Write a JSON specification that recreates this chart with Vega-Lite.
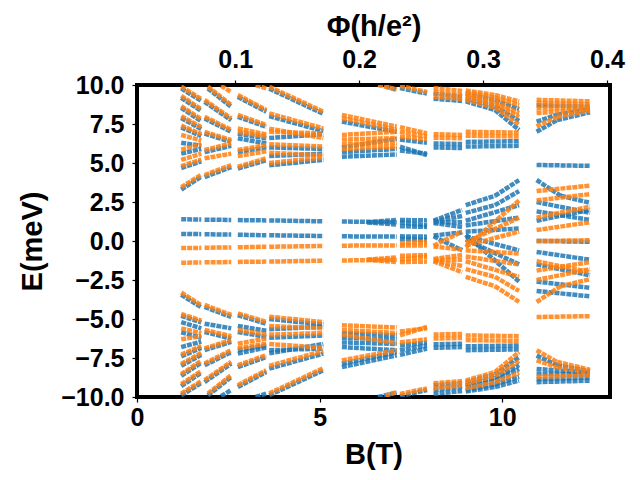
{
  "$schema": "https://vega.github.io/schema/vega-lite/v6.json",
  "width": 473,
  "height": 312,
  "autosize": {"type": "none"},
  "padding": {"left": 137, "top": 85, "right": 30, "bottom": 83},
  "background": "white",
  "layer": [
    {
      "data": {
        "values": [
          {"c":"B","b":1.21,"e":9.78,"b2":1.76,"e2":8.98},
          {"c":"B","b":1.21,"e":9.18,"b2":1.76,"e2":8.33},
          {"c":"B","b":1.21,"e":8.53,"b2":1.76,"e2":7.68},
          {"c":"B","b":1.21,"e":7.88,"b2":1.76,"e2":7.18},
          {"c":"B","b":1.21,"e":7.28,"b2":1.76,"e2":6.73},
          {"c":"B","b":1.21,"e":6.3,"b2":1.76,"e2":6.1},
          {"c":"B","b":1.21,"e":5.6,"b2":1.76,"e2":5.9},
          {"c":"B","b":1.21,"e":4.68,"b2":1.76,"e2":5.1},
          {"c":"B","b":1.21,"e":3.3,"b2":1.76,"e2":4.12},
          {"c":"B","b":1.94,"e":9.78,"b2":2.58,"e2":8.6},
          {"c":"B","b":1.85,"e":8.92,"b2":2.58,"e2":7.74},
          {"c":"B","b":1.85,"e":7.85,"b2":2.58,"e2":7.0},
          {"c":"B","b":1.85,"e":6.88,"b2":2.58,"e2":6.35},
          {"c":"B","b":1.85,"e":5.7,"b2":2.58,"e2":6.1},
          {"c":"B","b":1.85,"e":4.1,"b2":2.58,"e2":4.74},
          {"c":"B","b":2.76,"e":9.24,"b2":3.54,"e2":8.28},
          {"c":"B","b":2.76,"e":7.96,"b2":3.54,"e2":7.32},
          {"c":"B","b":2.76,"e":6.88,"b2":3.54,"e2":6.58},
          {"c":"B","b":2.76,"e":6.58,"b2":3.54,"e2":6.26},
          {"c":"B","b":2.76,"e":5.7,"b2":3.54,"e2":6.0},
          {"c":"B","b":2.76,"e":4.64,"b2":3.54,"e2":5.18},
          {"c":"B","b":3.62,"e":9.77,"b2":5.1,"e2":8.15},
          {"c":"B","b":3.62,"e":8.0,"b2":5.1,"e2":7.05},
          {"c":"B","b":3.62,"e":6.6,"b2":5.1,"e2":6.85},
          {"c":"B","b":3.62,"e":6.0,"b2":5.1,"e2":5.9},
          {"c":"B","b":3.62,"e":5.45,"b2":5.1,"e2":5.6},
          {"c":"B","b":3.62,"e":4.85,"b2":5.1,"e2":5.2},
          {"c":"B","b":6.8,"e":9.92,"b2":7.11,"e2":9.68},
          {"c":"B","b":5.61,"e":7.65,"b2":7.11,"e2":7.0},
          {"c":"B","b":5.61,"e":6.0,"b2":7.11,"e2":6.55},
          {"c":"B","b":5.61,"e":5.7,"b2":7.11,"e2":5.9},
          {"c":"B","b":5.61,"e":5.4,"b2":7.11,"e2":5.55},
          {"c":"B","b":7.2,"e":9.8,"b2":7.94,"e2":9.45},
          {"c":"B","b":7.2,"e":6.5,"b2":7.94,"e2":6.3},
          {"c":"B","b":7.2,"e":6.05,"b2":7.94,"e2":5.5},
          {"c":"B","b":7.2,"e":5.8,"b2":7.94,"e2":5.6},
          {"c":"B","b":8.12,"e":9.45,"b2":8.9,"e2":9.25},
          {"c":"B","b":8.12,"e":9.12,"b2":8.9,"e2":8.98},
          {"c":"B","b":8.12,"e":6.25,"b2":8.9,"e2":6.22},
          {"c":"B","b":8.12,"e":6.0,"b2":8.9,"e2":5.96},
          {"c":"B","b":9.0,"e":9.45,"b2":9.8,"e2":9.05},
          {"c":"B","b":9.8,"e":9.05,"b2":10.46,"e2":8.45},
          {"c":"B","b":9.0,"e":9.15,"b2":9.8,"e2":8.65},
          {"c":"B","b":9.8,"e":8.65,"b2":10.46,"e2":7.7},
          {"c":"B","b":9.0,"e":8.95,"b2":9.8,"e2":8.4},
          {"c":"B","b":9.8,"e":8.4,"b2":10.46,"e2":7.12},
          {"c":"B","b":9.0,"e":6.35,"b2":10.46,"e2":6.4},
          {"c":"B","b":9.0,"e":6.05,"b2":10.46,"e2":6.1},
          {"c":"B","b":10.94,"e":8.7,"b2":12.4,"e2":8.62},
          {"c":"B","b":10.94,"e":7.65,"b2":11.5,"e2":8.1},
          {"c":"B","b":11.5,"e":8.1,"b2":12.4,"e2":8.45},
          {"c":"B","b":10.94,"e":7.0,"b2":11.5,"e2":7.75},
          {"c":"B","b":11.5,"e":7.75,"b2":12.4,"e2":8.25},
          {"c":"B","b":10.94,"e":4.87,"b2":12.4,"e2":4.82},
          {"c":"B","b":1.21,"e":1.39,"b2":1.76,"e2":1.38},
          {"c":"B","b":1.21,"e":0.45,"b2":1.76,"e2":0.44},
          {"c":"B","b":1.85,"e":1.37,"b2":2.58,"e2":1.35},
          {"c":"B","b":1.85,"e":0.43,"b2":2.58,"e2":0.41},
          {"c":"B","b":2.76,"e":1.34,"b2":3.54,"e2":1.32},
          {"c":"B","b":2.76,"e":0.4,"b2":3.54,"e2":0.37},
          {"c":"B","b":3.62,"e":1.32,"b2":5.1,"e2":1.26},
          {"c":"B","b":3.62,"e":0.37,"b2":5.1,"e2":0.32},
          {"c":"B","b":5.61,"e":1.25,"b2":7.11,"e2":1.2},
          {"c":"B","b":5.61,"e":0.3,"b2":7.11,"e2":0.28},
          {"c":"B","b":6.3,"e":1.2,"b2":7.11,"e2":1.35},
          {"c":"B","b":6.3,"e":1.2,"b2":7.11,"e2":1.05},
          {"c":"B","b":7.2,"e":1.35,"b2":7.94,"e2":1.32},
          {"c":"B","b":7.2,"e":1.2,"b2":7.94,"e2":1.0},
          {"c":"B","b":7.2,"e":0.95,"b2":7.94,"e2":0.9},
          {"c":"B","b":7.2,"e":0.3,"b2":7.94,"e2":0.28},
          {"c":"B","b":7.2,"e":0.15,"b2":7.94,"e2":0.05},
          {"c":"B","b":8.12,"e":1.3,"b2":8.9,"e2":2.0},
          {"c":"B","b":8.12,"e":1.25,"b2":8.9,"e2":1.6},
          {"c":"B","b":8.12,"e":1.2,"b2":8.9,"e2":1.2},
          {"c":"B","b":8.12,"e":1.15,"b2":8.9,"e2":0.9},
          {"c":"B","b":8.12,"e":0.35,"b2":8.9,"e2":0.55},
          {"c":"B","b":8.12,"e":0.3,"b2":8.9,"e2":-0.6},
          {"c":"B","b":9.0,"e":2.3,"b2":9.8,"e2":2.9},
          {"c":"B","b":9.8,"e":2.9,"b2":10.46,"e2":3.9},
          {"c":"B","b":9.0,"e":1.8,"b2":9.8,"e2":2.3},
          {"c":"B","b":9.8,"e":2.3,"b2":10.46,"e2":3.2},
          {"c":"B","b":9.0,"e":1.3,"b2":10.46,"e2":2.3},
          {"c":"B","b":9.0,"e":1.0,"b2":10.46,"e2":1.5},
          {"c":"B","b":9.0,"e":0.6,"b2":10.46,"e2":0.8},
          {"c":"B","b":9.0,"e":0.3,"b2":10.46,"e2":-0.6},
          {"c":"B","b":9.0,"e":0.1,"b2":10.46,"e2":-1.5},
          {"c":"B","b":9.0,"e":0.4,"b2":10.46,"e2":-2.6},
          {"c":"B","b":10.94,"e":3.91,"b2":11.6,"e2":2.9},
          {"c":"B","b":11.6,"e":2.9,"b2":12.4,"e2":2.45},
          {"c":"B","b":10.94,"e":2.5,"b2":12.4,"e2":1.8},
          {"c":"B","b":10.94,"e":1.9,"b2":12.4,"e2":1.35},
          {"c":"B","b":10.94,"e":1.3,"b2":12.4,"e2":2.0},
          {"c":"B","b":10.94,"e":0.0,"b2":12.4,"e2":-0.05},
          {"c":"B","b":10.94,"e":-0.7,"b2":12.4,"e2":-1.2},
          {"c":"B","b":10.94,"e":-1.5,"b2":12.4,"e2":-2.2},
          {"c":"B","b":10.94,"e":-2.6,"b2":12.4,"e2":-3.0},
          {"c":"B","b":10.94,"e":-3.2,"b2":12.4,"e2":-3.55},
          {"c":"B","b":1.21,"e":-9.9,"b2":1.76,"e2":-9.1},
          {"c":"B","b":1.21,"e":-9.3,"b2":1.76,"e2":-8.45},
          {"c":"B","b":1.21,"e":-8.65,"b2":1.76,"e2":-7.8},
          {"c":"B","b":1.21,"e":-8.0,"b2":1.76,"e2":-7.3},
          {"c":"B","b":1.21,"e":-7.4,"b2":1.76,"e2":-6.85},
          {"c":"B","b":1.21,"e":-6.8,"b2":1.76,"e2":-6.45},
          {"c":"B","b":1.21,"e":-5.85,"b2":1.76,"e2":-6.2},
          {"c":"B","b":1.21,"e":-5.2,"b2":1.76,"e2":-5.6},
          {"c":"B","b":1.21,"e":-4.8,"b2":1.76,"e2":-5.22},
          {"c":"B","b":1.21,"e":-3.45,"b2":1.76,"e2":-4.25},
          {"c":"B","b":2.3,"e":-9.95,"b2":2.58,"e2":-9.55},
          {"c":"B","b":1.94,"e":-9.9,"b2":2.58,"e2":-8.72},
          {"c":"B","b":1.85,"e":-9.04,"b2":2.58,"e2":-7.86},
          {"c":"B","b":1.85,"e":-7.97,"b2":2.58,"e2":-7.12},
          {"c":"B","b":1.85,"e":-7.0,"b2":2.58,"e2":-6.47},
          {"c":"B","b":1.85,"e":-5.83,"b2":2.58,"e2":-6.26},
          {"c":"B","b":1.85,"e":-5.3,"b2":2.58,"e2":-5.6},
          {"c":"B","b":1.85,"e":-4.23,"b2":2.58,"e2":-4.87},
          {"c":"B","b":3.25,"e":-10.0,"b2":3.54,"e2":-9.78},
          {"c":"B","b":2.76,"e":-9.36,"b2":3.54,"e2":-8.4},
          {"c":"B","b":2.76,"e":-8.08,"b2":3.54,"e2":-7.44},
          {"c":"B","b":2.76,"e":-7.22,"b2":3.54,"e2":-6.82},
          {"c":"B","b":2.76,"e":-7.0,"b2":3.54,"e2":-6.7},
          {"c":"B","b":2.76,"e":-5.83,"b2":3.54,"e2":-6.15},
          {"c":"B","b":2.76,"e":-5.45,"b2":3.54,"e2":-5.75},
          {"c":"B","b":2.76,"e":-4.76,"b2":3.54,"e2":-5.3},
          {"c":"B","b":3.62,"e":-9.89,"b2":5.1,"e2":-8.29},
          {"c":"B","b":3.62,"e":-8.18,"b2":5.1,"e2":-7.22},
          {"c":"B","b":3.62,"e":-7.2,"b2":5.1,"e2":-6.6},
          {"c":"B","b":3.62,"e":-7.0,"b2":5.1,"e2":-6.9},
          {"c":"B","b":3.62,"e":-6.2,"b2":5.1,"e2":-6.05},
          {"c":"B","b":3.62,"e":-5.65,"b2":5.1,"e2":-5.5},
          {"c":"B","b":3.62,"e":-5.0,"b2":5.1,"e2":-5.35},
          {"c":"B","b":6.6,"e":-10.0,"b2":7.11,"e2":-9.72},
          {"c":"B","b":5.61,"e":-8.08,"b2":7.11,"e2":-7.33},
          {"c":"B","b":5.61,"e":-7.86,"b2":7.11,"e2":-7.12},
          {"c":"B","b":5.61,"e":-6.8,"b2":7.11,"e2":-7.0},
          {"c":"B","b":5.61,"e":-6.5,"b2":7.11,"e2":-6.6},
          {"c":"B","b":5.61,"e":-6.2,"b2":7.11,"e2":-6.3},
          {"c":"B","b":5.61,"e":-5.9,"b2":7.11,"e2":-6.05},
          {"c":"B","b":7.2,"e":-9.95,"b2":7.94,"e2":-9.55},
          {"c":"B","b":7.2,"e":-7.3,"b2":7.94,"e2":-6.9},
          {"c":"B","b":7.2,"e":-7.0,"b2":7.94,"e2":-6.7},
          {"c":"B","b":7.2,"e":-6.7,"b2":7.94,"e2":-6.5},
          {"c":"B","b":8.12,"e":-9.8,"b2":8.9,"e2":-9.62},
          {"c":"B","b":8.12,"e":-9.55,"b2":8.9,"e2":-9.35},
          {"c":"B","b":8.12,"e":-9.25,"b2":8.9,"e2":-9.1},
          {"c":"B","b":8.12,"e":-6.85,"b2":8.9,"e2":-6.8},
          {"c":"B","b":8.12,"e":-6.62,"b2":8.9,"e2":-6.58},
          {"c":"B","b":9.0,"e":-9.65,"b2":9.8,"e2":-9.36},
          {"c":"B","b":9.8,"e":-9.36,"b2":10.46,"e2":-8.95},
          {"c":"B","b":9.0,"e":-9.55,"b2":9.8,"e2":-9.2},
          {"c":"B","b":9.8,"e":-9.2,"b2":10.46,"e2":-8.7},
          {"c":"B","b":9.0,"e":-9.35,"b2":9.8,"e2":-8.95},
          {"c":"B","b":9.8,"e":-8.95,"b2":10.46,"e2":-8.2},
          {"c":"B","b":9.0,"e":-9.25,"b2":9.8,"e2":-8.8},
          {"c":"B","b":9.8,"e":-8.8,"b2":10.46,"e2":-7.95},
          {"c":"B","b":9.0,"e":-9.05,"b2":9.8,"e2":-8.55},
          {"c":"B","b":9.8,"e":-8.55,"b2":10.46,"e2":-7.45},
          {"c":"B","b":9.0,"e":-7.0,"b2":10.46,"e2":-6.95},
          {"c":"B","b":9.0,"e":-6.75,"b2":10.46,"e2":-6.7},
          {"c":"B","b":10.94,"e":-9.05,"b2":12.4,"e2":-8.95},
          {"c":"B","b":10.94,"e":-8.85,"b2":12.4,"e2":-8.75},
          {"c":"B","b":10.94,"e":-8.5,"b2":12.4,"e2":-8.55},
          {"c":"B","b":10.94,"e":-8.2,"b2":12.4,"e2":-8.45},
          {"c":"B","b":10.94,"e":-7.35,"b2":11.5,"e2":-7.95},
          {"c":"B","b":11.5,"e":-7.95,"b2":12.4,"e2":-8.35},

          {"c":"O","b":1.21,"e":9.9,"b2":1.76,"e2":9.1},
          {"c":"O","b":1.21,"e":9.3,"b2":1.76,"e2":8.45},
          {"c":"O","b":1.21,"e":8.65,"b2":1.76,"e2":7.8},
          {"c":"O","b":1.21,"e":8.0,"b2":1.76,"e2":7.3},
          {"c":"O","b":1.21,"e":7.4,"b2":1.76,"e2":6.85},
          {"c":"O","b":1.21,"e":6.8,"b2":1.76,"e2":6.45},
          {"c":"O","b":1.21,"e":5.85,"b2":1.76,"e2":6.2},
          {"c":"O","b":1.21,"e":5.2,"b2":1.76,"e2":5.6},
          {"c":"O","b":1.21,"e":4.8,"b2":1.76,"e2":5.22},
          {"c":"O","b":1.21,"e":3.45,"b2":1.76,"e2":4.25},
          {"c":"O","b":2.3,"e":9.95,"b2":2.58,"e2":9.55},
          {"c":"O","b":1.94,"e":9.9,"b2":2.58,"e2":8.72},
          {"c":"O","b":1.85,"e":9.04,"b2":2.58,"e2":7.86},
          {"c":"O","b":1.85,"e":7.97,"b2":2.58,"e2":7.12},
          {"c":"O","b":1.85,"e":7.0,"b2":2.58,"e2":6.47},
          {"c":"O","b":1.85,"e":5.83,"b2":2.58,"e2":6.26},
          {"c":"O","b":1.85,"e":5.3,"b2":2.58,"e2":5.6},
          {"c":"O","b":1.85,"e":4.23,"b2":2.58,"e2":4.87},
          {"c":"O","b":3.25,"e":10.0,"b2":3.54,"e2":9.78},
          {"c":"O","b":2.76,"e":9.36,"b2":3.54,"e2":8.4},
          {"c":"O","b":2.76,"e":8.08,"b2":3.54,"e2":7.44},
          {"c":"O","b":2.76,"e":7.22,"b2":3.54,"e2":6.82},
          {"c":"O","b":2.76,"e":7.0,"b2":3.54,"e2":6.7},
          {"c":"O","b":2.76,"e":5.83,"b2":3.54,"e2":6.15},
          {"c":"O","b":2.76,"e":5.45,"b2":3.54,"e2":5.75},
          {"c":"O","b":2.76,"e":4.76,"b2":3.54,"e2":5.3},
          {"c":"O","b":3.62,"e":9.89,"b2":5.1,"e2":8.29},
          {"c":"O","b":3.62,"e":8.18,"b2":5.1,"e2":7.22},
          {"c":"O","b":3.62,"e":7.2,"b2":5.1,"e2":6.6},
          {"c":"O","b":3.62,"e":7.0,"b2":5.1,"e2":6.9},
          {"c":"O","b":3.62,"e":6.2,"b2":5.1,"e2":6.05},
          {"c":"O","b":3.62,"e":5.65,"b2":5.1,"e2":5.5},
          {"c":"O","b":3.62,"e":5.0,"b2":5.1,"e2":5.35},
          {"c":"O","b":6.6,"e":10.0,"b2":7.11,"e2":9.72},
          {"c":"O","b":5.61,"e":8.08,"b2":7.11,"e2":7.33},
          {"c":"O","b":5.61,"e":7.86,"b2":7.11,"e2":7.12},
          {"c":"O","b":5.61,"e":6.8,"b2":7.11,"e2":7.0},
          {"c":"O","b":5.61,"e":6.5,"b2":7.11,"e2":6.6},
          {"c":"O","b":5.61,"e":6.2,"b2":7.11,"e2":6.3},
          {"c":"O","b":5.61,"e":5.9,"b2":7.11,"e2":6.05},
          {"c":"O","b":7.2,"e":9.95,"b2":7.94,"e2":9.55},
          {"c":"O","b":7.2,"e":7.3,"b2":7.94,"e2":6.9},
          {"c":"O","b":7.2,"e":7.0,"b2":7.94,"e2":6.7},
          {"c":"O","b":7.2,"e":6.7,"b2":7.94,"e2":6.5},
          {"c":"O","b":8.12,"e":9.8,"b2":8.9,"e2":9.62},
          {"c":"O","b":8.12,"e":9.55,"b2":8.9,"e2":9.35},
          {"c":"O","b":8.12,"e":9.25,"b2":8.9,"e2":9.1},
          {"c":"O","b":8.12,"e":6.85,"b2":8.9,"e2":6.8},
          {"c":"O","b":8.12,"e":6.62,"b2":8.9,"e2":6.58},
          {"c":"O","b":9.0,"e":9.65,"b2":9.8,"e2":9.36},
          {"c":"O","b":9.8,"e":9.36,"b2":10.46,"e2":8.95},
          {"c":"O","b":9.0,"e":9.55,"b2":9.8,"e2":9.2},
          {"c":"O","b":9.8,"e":9.2,"b2":10.46,"e2":8.7},
          {"c":"O","b":9.0,"e":9.35,"b2":9.8,"e2":8.95},
          {"c":"O","b":9.8,"e":8.95,"b2":10.46,"e2":8.2},
          {"c":"O","b":9.0,"e":9.25,"b2":9.8,"e2":8.8},
          {"c":"O","b":9.8,"e":8.8,"b2":10.46,"e2":7.95},
          {"c":"O","b":9.0,"e":9.05,"b2":9.8,"e2":8.55},
          {"c":"O","b":9.8,"e":8.55,"b2":10.46,"e2":7.45},
          {"c":"O","b":9.0,"e":7.0,"b2":10.46,"e2":6.95},
          {"c":"O","b":9.0,"e":6.75,"b2":10.46,"e2":6.7},
          {"c":"O","b":10.94,"e":9.05,"b2":12.4,"e2":8.95},
          {"c":"O","b":10.94,"e":8.85,"b2":12.4,"e2":8.75},
          {"c":"O","b":10.94,"e":8.5,"b2":12.4,"e2":8.55},
          {"c":"O","b":10.94,"e":8.2,"b2":12.4,"e2":8.45},
          {"c":"O","b":10.94,"e":7.35,"b2":11.5,"e2":7.95},
          {"c":"O","b":11.5,"e":7.95,"b2":12.4,"e2":8.35},
          {"c":"O","b":1.21,"e":-9.78,"b2":1.76,"e2":-8.98},
          {"c":"O","b":1.21,"e":-9.18,"b2":1.76,"e2":-8.33},
          {"c":"O","b":1.21,"e":-8.53,"b2":1.76,"e2":-7.68},
          {"c":"O","b":1.21,"e":-7.88,"b2":1.76,"e2":-7.18},
          {"c":"O","b":1.21,"e":-7.28,"b2":1.76,"e2":-6.73},
          {"c":"O","b":1.21,"e":-6.3,"b2":1.76,"e2":-6.1},
          {"c":"O","b":1.21,"e":-5.6,"b2":1.76,"e2":-5.9},
          {"c":"O","b":1.21,"e":-4.68,"b2":1.76,"e2":-5.1},
          {"c":"O","b":1.21,"e":-3.3,"b2":1.76,"e2":-4.12},
          {"c":"O","b":1.94,"e":-9.78,"b2":2.58,"e2":-8.6},
          {"c":"O","b":1.85,"e":-8.92,"b2":2.58,"e2":-7.74},
          {"c":"O","b":1.85,"e":-7.85,"b2":2.58,"e2":-7.0},
          {"c":"O","b":1.85,"e":-6.88,"b2":2.58,"e2":-6.35},
          {"c":"O","b":1.85,"e":-5.7,"b2":2.58,"e2":-6.1},
          {"c":"O","b":1.85,"e":-4.1,"b2":2.58,"e2":-4.74},
          {"c":"O","b":2.76,"e":-9.24,"b2":3.54,"e2":-8.28},
          {"c":"O","b":2.76,"e":-7.96,"b2":3.54,"e2":-7.32},
          {"c":"O","b":2.76,"e":-6.88,"b2":3.54,"e2":-6.58},
          {"c":"O","b":2.76,"e":-6.58,"b2":3.54,"e2":-6.26},
          {"c":"O","b":2.76,"e":-5.7,"b2":3.54,"e2":-6.0},
          {"c":"O","b":2.76,"e":-4.64,"b2":3.54,"e2":-5.18},
          {"c":"O","b":3.62,"e":-9.77,"b2":5.1,"e2":-8.15},
          {"c":"O","b":3.62,"e":-8.0,"b2":5.1,"e2":-7.05},
          {"c":"O","b":3.62,"e":-6.6,"b2":5.1,"e2":-6.85},
          {"c":"O","b":3.62,"e":-6.0,"b2":5.1,"e2":-5.9},
          {"c":"O","b":3.62,"e":-5.45,"b2":5.1,"e2":-5.6},
          {"c":"O","b":3.62,"e":-4.85,"b2":5.1,"e2":-5.2},
          {"c":"O","b":6.8,"e":-9.92,"b2":7.11,"e2":-9.68},
          {"c":"O","b":5.61,"e":-7.65,"b2":7.11,"e2":-7.0},
          {"c":"O","b":5.61,"e":-6.0,"b2":7.11,"e2":-6.55},
          {"c":"O","b":5.61,"e":-5.7,"b2":7.11,"e2":-5.9},
          {"c":"O","b":5.61,"e":-5.4,"b2":7.11,"e2":-5.55},
          {"c":"O","b":7.2,"e":-9.8,"b2":7.94,"e2":-9.45},
          {"c":"O","b":7.2,"e":-6.5,"b2":7.94,"e2":-6.3},
          {"c":"O","b":7.2,"e":-6.05,"b2":7.94,"e2":-5.5},
          {"c":"O","b":7.2,"e":-5.8,"b2":7.94,"e2":-5.6},
          {"c":"O","b":8.12,"e":-9.45,"b2":8.9,"e2":-9.25},
          {"c":"O","b":8.12,"e":-9.12,"b2":8.9,"e2":-8.98},
          {"c":"O","b":8.12,"e":-6.25,"b2":8.9,"e2":-6.22},
          {"c":"O","b":8.12,"e":-6.0,"b2":8.9,"e2":-5.96},
          {"c":"O","b":9.0,"e":-9.45,"b2":9.8,"e2":-9.05},
          {"c":"O","b":9.8,"e":-9.05,"b2":10.46,"e2":-8.45},
          {"c":"O","b":9.0,"e":-9.15,"b2":9.8,"e2":-8.65},
          {"c":"O","b":9.8,"e":-8.65,"b2":10.46,"e2":-7.7},
          {"c":"O","b":9.0,"e":-8.95,"b2":9.8,"e2":-8.4},
          {"c":"O","b":9.8,"e":-8.4,"b2":10.46,"e2":-7.12},
          {"c":"O","b":9.0,"e":-6.35,"b2":10.46,"e2":-6.4},
          {"c":"O","b":9.0,"e":-6.05,"b2":10.46,"e2":-6.1},
          {"c":"O","b":10.94,"e":-8.7,"b2":12.4,"e2":-8.62},
          {"c":"O","b":10.94,"e":-7.65,"b2":11.5,"e2":-8.1},
          {"c":"O","b":11.5,"e":-8.1,"b2":12.4,"e2":-8.45},
          {"c":"O","b":10.94,"e":-7.0,"b2":11.5,"e2":-7.75},
          {"c":"O","b":11.5,"e":-7.75,"b2":12.4,"e2":-8.25},
          {"c":"O","b":10.94,"e":-4.87,"b2":12.4,"e2":-4.82},
          {"c":"O","b":1.21,"e":-1.39,"b2":1.76,"e2":-1.38},
          {"c":"O","b":1.21,"e":-0.45,"b2":1.76,"e2":-0.44},
          {"c":"O","b":1.85,"e":-1.37,"b2":2.58,"e2":-1.35},
          {"c":"O","b":1.85,"e":-0.43,"b2":2.58,"e2":-0.41},
          {"c":"O","b":2.76,"e":-1.34,"b2":3.54,"e2":-1.32},
          {"c":"O","b":2.76,"e":-0.4,"b2":3.54,"e2":-0.37},
          {"c":"O","b":3.62,"e":-1.32,"b2":5.1,"e2":-1.26},
          {"c":"O","b":3.62,"e":-0.37,"b2":5.1,"e2":-0.32},
          {"c":"O","b":5.61,"e":-1.25,"b2":7.11,"e2":-1.2},
          {"c":"O","b":5.61,"e":-0.3,"b2":7.11,"e2":-0.28},
          {"c":"O","b":6.3,"e":-1.2,"b2":7.11,"e2":-1.35},
          {"c":"O","b":6.3,"e":-1.2,"b2":7.11,"e2":-1.05},
          {"c":"O","b":7.2,"e":-1.35,"b2":7.94,"e2":-1.32},
          {"c":"O","b":7.2,"e":-1.2,"b2":7.94,"e2":-1.0},
          {"c":"O","b":7.2,"e":-0.95,"b2":7.94,"e2":-0.9},
          {"c":"O","b":7.2,"e":-0.3,"b2":7.94,"e2":-0.28},
          {"c":"O","b":7.2,"e":-0.15,"b2":7.94,"e2":-0.05},
          {"c":"O","b":8.12,"e":-1.3,"b2":8.9,"e2":-2.0},
          {"c":"O","b":8.12,"e":-1.25,"b2":8.9,"e2":-1.6},
          {"c":"O","b":8.12,"e":-1.2,"b2":8.9,"e2":-1.2},
          {"c":"O","b":8.12,"e":-1.15,"b2":8.9,"e2":-0.9},
          {"c":"O","b":8.12,"e":-0.35,"b2":8.9,"e2":-0.55},
          {"c":"O","b":8.12,"e":-0.3,"b2":8.9,"e2":0.6},
          {"c":"O","b":9.0,"e":-2.3,"b2":9.8,"e2":-2.9},
          {"c":"O","b":9.8,"e":-2.9,"b2":10.46,"e2":-3.9},
          {"c":"O","b":9.0,"e":-1.8,"b2":9.8,"e2":-2.3},
          {"c":"O","b":9.8,"e":-2.3,"b2":10.46,"e2":-3.2},
          {"c":"O","b":9.0,"e":-1.3,"b2":10.46,"e2":-2.3},
          {"c":"O","b":9.0,"e":-1.0,"b2":10.46,"e2":-1.5},
          {"c":"O","b":9.0,"e":-0.6,"b2":10.46,"e2":-0.8},
          {"c":"O","b":9.0,"e":-0.3,"b2":10.46,"e2":0.6},
          {"c":"O","b":9.0,"e":-0.1,"b2":10.46,"e2":1.5},
          {"c":"O","b":9.0,"e":-0.4,"b2":10.46,"e2":2.6},
          {"c":"O","b":10.94,"e":-3.91,"b2":11.6,"e2":-2.9},
          {"c":"O","b":11.6,"e":-2.9,"b2":12.4,"e2":-2.45},
          {"c":"O","b":10.94,"e":-2.5,"b2":12.4,"e2":-1.8},
          {"c":"O","b":10.94,"e":-1.9,"b2":12.4,"e2":-1.35},
          {"c":"O","b":10.94,"e":-1.3,"b2":12.4,"e2":-2.0},
          {"c":"O","b":10.94,"e":0.0,"b2":12.4,"e2":0.05},
          {"c":"O","b":10.94,"e":0.7,"b2":12.4,"e2":1.2},
          {"c":"O","b":10.94,"e":1.5,"b2":12.4,"e2":2.2},
          {"c":"O","b":10.94,"e":2.6,"b2":12.4,"e2":3.0},
          {"c":"O","b":10.94,"e":3.2,"b2":12.4,"e2":3.55}
        ]
      },
      "mark": {"type": "rule", "strokeWidth": 4.5, "opacity": 0.85, "strokeCap": "butt", "strokeDash": [5, 1], "clip": true},
      "encoding": {
        "x": {
          "field": "b",
          "type": "quantitative",
          "scale": {"domain": [0, 12.95], "nice": false, "zero": false},
          "axis": {"values": [0, 5, 10], "format": "d", "title": "B(T)", "labelPadding": 3, "titlePadding": 10, "labelFlush": false}
        },
        "x2": {"field": "b2"},
        "y": {
          "field": "e",
          "type": "quantitative",
          "scale": {"domain": [-10, 10], "nice": false},
          "axis": {"values": [-10, -7.5, -5, -2.5, 0, 2.5, 5, 7.5, 10], "format": ".1f", "title": "E(meV)", "labelPadding": 8, "titlePadding": 13}
        },
        "y2": {"field": "e2"},
        "color": {
          "field": "c",
          "type": "nominal",
          "scale": {"domain": ["B", "O"], "range": ["#1f77b4", "#ff7f0e"]},
          "legend": null
        }
      }
    },
    {
      "data": {"values": [{"p": 0.1}, {"p": 0.2}, {"p": 0.3}, {"p": 0.4}]},
      "mark": {"type": "point", "opacity": 0},
      "encoding": {
        "x": {
          "field": "p",
          "type": "quantitative",
          "scale": {"domain": [0.0207, 0.4025], "nice": false, "zero": false},
          "axis": {"orient": "top", "values": [0.1, 0.2, 0.3, 0.4], "format": ".1f", "title": "Φ(h/e²)", "labelPadding": 8, "titlePadding": 6, "labelFlush": false}
        }
      }
    }
  ],
  "resolve": {"scale": {"x": "independent"}, "axis": {"x": "independent"}},
  "config": {
    "view": {"stroke": "black", "strokeWidth": 4},
    "axis": {
      "domain": false,
      "grid": false,
      "ticks": true,
      "tickColor": "black",
      "tickWidth": 1.2,
      "tickSize": 5,
      "labelFont": "Liberation Sans",
      "labelFontWeight": "bold",
      "labelFontSize": 25,
      "labelColor": "black",
      "titleFont": "Liberation Sans",
      "titleFontWeight": "bold",
      "titleFontSize": 29,
      "titleColor": "black"
    }
  }
}
